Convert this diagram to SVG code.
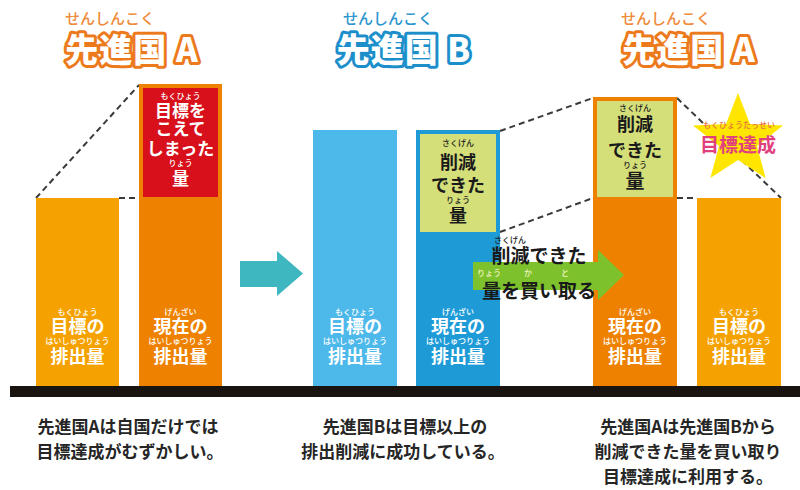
<svg xmlns="http://www.w3.org/2000/svg" width="800" height="490" viewBox="0 0 800 490">
<style>
text{font-family:"Noto Sans CJK JP","Noto Sans",sans-serif;text-anchor:middle}
.t{font-size:33px;font-weight:900;fill:#fff;stroke-width:6px;stroke-linejoin:round;paint-order:stroke;letter-spacing:1px}
.tA{stroke:#EC7A1C}.tB{stroke:#1C8FCB}
.rt{font-size:15px;font-weight:500}
.w{fill:#fff;font-weight:700;font-size:18px}
.wr{fill:#fff;font-size:8px;font-weight:500}
.k{fill:#1a1a1a;font-weight:700;font-size:18px}
.kr{fill:#1a1a1a;font-size:8px;font-weight:500}
.cap{fill:#262626;font-weight:700;font-size:17px}
.dash{stroke:#3a3a3a;stroke-width:2;stroke-dasharray:6 4;fill:none}
.lo{fill:#F5A200}.or{fill:#EE8200}.lb{fill:#4DB8EA}.db{fill:#1E9BD7}.gr{fill:#D5DF7A}
</style>
<rect width="800" height="490" fill="#fff"/>

<g id="title-a-left">
<text class="rt" x="110" y="24" fill="#EE8A3A">せんしんこく</text>
<text class="t tA" x="132" y="62">先進国 A</text>
</g>
<g id="title-b">
<text class="rt" x="388" y="24" fill="#2B95CF">せんしんこく</text>
<text class="t tB" x="404" y="62">先進国 B</text>
</g>
<g id="title-a-right">
<text class="rt" x="666" y="24" fill="#EE8A3A">せんしんこく</text>
<text class="t tA" x="689" y="62">先進国 A</text>
</g>

<g id="connectors">
<line class="dash" x1="36" y1="198" x2="139" y2="85"/>
<line class="dash" x1="119" y1="198" x2="139" y2="198"/>
<line class="dash" x1="500" y1="131" x2="593" y2="98"/>
<line class="dash" x1="500" y1="232" x2="593" y2="198"/>
<line class="dash" x1="677" y1="98" x2="781" y2="198"/>
<line class="dash" x1="677" y1="198" x2="697" y2="198"/>
</g>

<g id="bar-a-target">
<rect class="lo" x="36" y="198" width="83" height="189"/>
<text class="wr" x="77.5" y="315">もくひょう</text>
<text class="w" x="77.5" y="333">目標の</text>
<text class="wr" x="77.5" y="344">はいしゅつりょう</text>
<text class="w" x="77.5" y="363">排出量</text>
</g>

<g id="bar-a-current">
<rect class="or" x="139" y="84" width="83" height="303"/>
<rect x="143" y="88" width="75" height="109" fill="#D7101B"/>
<text class="wr" x="180.5" y="99">もくひょう</text>
<text class="w" x="180.5" y="117" style="font-size:17px">目標を</text>
<text class="w" x="180.5" y="135" style="font-size:17px">こえて</text>
<text class="w" x="180.5" y="155" style="font-size:17px">しまった</text>
<text class="wr" x="180.5" y="166">りょう</text>
<text class="w" x="180.5" y="185" style="font-size:17px">量</text>
<text class="wr" x="180.5" y="315">げんざい</text>
<text class="w" x="180.5" y="333">現在の</text>
<text class="wr" x="180.5" y="344">はいしゅつりょう</text>
<text class="w" x="180.5" y="363">排出量</text>
</g>

<g id="arrow-teal">
<polygon points="240,261 277,261 277,251 303,273.5 277,296 277,287 240,287" fill="#3FB7C0"/>
</g>

<g id="bar-b-target">
<rect class="lb" x="313" y="130" width="84" height="257"/>
<text class="wr" x="355" y="315">もくひょう</text>
<text class="w" x="355" y="333">目標の</text>
<text class="wr" x="355" y="344">はいしゅつりょう</text>
<text class="w" x="355" y="363">排出量</text>
</g>

<g id="bar-b-current">
<rect class="db" x="416" y="130" width="84" height="257"/>
<rect class="gr" x="420" y="134" width="76" height="98"/>
<text class="kr" x="458" y="146">さくげん</text>
<text class="k" x="458" y="169">削減</text>
<text class="k" x="458" y="192">できた</text>
<text class="kr" x="458" y="203">りょう</text>
<text class="k" x="458" y="222">量</text>
<text class="wr" x="458" y="315">げんざい</text>
<text class="w" x="458" y="333">現在の</text>
<text class="wr" x="458" y="344">はいしゅつりょう</text>
<text class="w" x="458" y="363">排出量</text>
</g>

<g id="bar-a2-current">
<rect class="or" x="593" y="97" width="84" height="290"/>
<rect class="gr" x="597" y="101" width="76" height="96"/>
<text class="kr" x="635" y="111">さくげん</text>
<text class="k" x="635" y="131">削減</text>
<text class="k" x="635" y="157">できた</text>
<text class="kr" x="635" y="168">りょう</text>
<text class="k" x="635" y="188" style="font-size:19px">量</text>
<text class="wr" x="635" y="315">げんざい</text>
<text class="w" x="635" y="333">現在の</text>
<text class="wr" x="635" y="344">はいしゅつりょう</text>
<text class="w" x="635" y="363">排出量</text>
</g>

<g id="bar-a2-target">
<rect class="lo" x="697" y="198" width="84" height="189"/>
<text class="wr" x="739" y="315">もくひょう</text>
<text class="w" x="739" y="333">目標の</text>
<text class="wr" x="739" y="344">はいしゅつりょう</text>
<text class="w" x="739" y="363">排出量</text>
</g>

<g id="star-goal">
<polygon points="738,93 750,124 783,125.5 757,146 765.6,178 738,160 710.4,178 719,146 693,125.5 726,124" fill="#FFE600"/>
<text x="739" y="128" style="font-size:8px;font-weight:500;fill:#E8703A">もくひょうたっせい</text>
<text x="738" y="152" style="font-size:19px;font-weight:700;fill:#E0407E">目標達成</text>
</g>

<g id="arrow-green">
<polygon points="473,262 598,262 598,250 624,275 598,300 598,290 473,290" fill="#7DC22C"/>
<text x="510" y="243" style="font-size:8px;font-weight:500;fill:#1a1a1a">さくげん</text>
<text x="539" y="263" style="font-size:19px;font-weight:700;fill:#1a1a1a">削減できた</text>
<text x="489" y="276" style="font-size:8px;font-weight:500;fill:#F2F2C0">りょう</text>
<text x="528" y="276" style="font-size:8px;font-weight:500;fill:#F2F2C0">か</text>
<text x="565" y="276" style="font-size:8px;font-weight:500;fill:#F2F2C0">と</text>
<text x="539" y="298" style="font-size:19px;font-weight:700;fill:#1a1a1a">量を買い取る</text>
</g>

<g id="ground">
<rect x="10" y="386" width="790" height="11" fill="#1A1410"/>
</g>

<g id="caption-1">
<text class="cap" x="128" y="433">先進国Aは自国だけでは</text>
<text class="cap" x="130" y="458">目標達成がむずかしい。</text>
</g>
<g id="caption-2">
<text class="cap" x="405" y="433">先進国Bは目標以上の</text>
<text class="cap" x="403" y="458">排出削減に成功している。</text>
</g>
<g id="caption-3">
<text class="cap" x="688" y="433">先進国Aは先進国Bから</text>
<text class="cap" x="688" y="458">削減できた量を買い取り</text>
<text class="cap" x="688" y="483">目標達成に利用する。</text>
</g>
</svg>
